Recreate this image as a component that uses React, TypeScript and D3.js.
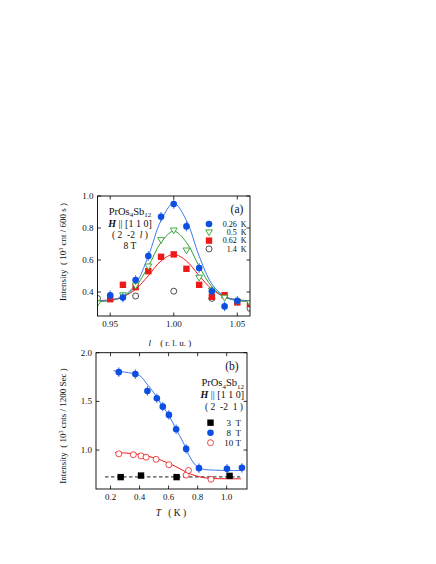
import * as d3 from 'd3'

// ---- panel (a): scan along l, 8 T ----
const L = [0.94, 0.95, 0.96, 0.97, 0.98, 0.99, 1.0, 1.01, 1.02, 1.03, 1.04, 1.05, 1.06]
const K026 = [null, 0.38, 0.365, 0.475, 0.625, 0.87, 0.95, 0.81, 0.55, 0.405, 0.31, 0.345, null]
const K05 = [0.33, null, 0.38, 0.44, 0.56, 0.725, 0.785, 0.66, 0.49, 0.41, 0.365, 0.34, 0.33]
const K062 = [null, 0.355, 0.445, 0.43, 0.53, 0.62, 0.635, 0.545, 0.445, 0.37, 0.38, 0.335, 0.325]
const K14 = [0.36, null, null, 0.375, null, null, 0.405, null, null, 0.36, null, null, 0.298]
// fitted curves
const FIT026 = [0.345, 0.35, 0.372, 0.45, 0.624, 0.847, 0.955, 0.847, 0.624, 0.45, 0.372, 0.35, 0.345]
const FIT05 = [0.34, 0.346, 0.368, 0.433, 0.56, 0.71, 0.78, 0.71, 0.56, 0.433, 0.368, 0.346, 0.34]
const FIT062 = [0.346, 0.351, 0.37, 0.417, 0.502, 0.594, 0.635, 0.594, 0.502, 0.417, 0.37, 0.351, 0.346]
const A_XTICKS = [0.95, 1.0, 1.05]
const A_YTICKS = [0.4, 0.6, 0.8, 1.0]

// ---- panel (b): temperature dependence ----
const T3 = [0.27, 0.41, 0.655, 1.02]
const I3 = [0.722, 0.738, 0.722, 0.735]
const T8 = [0.257, 0.371, 0.454, 0.519, 0.56, 0.602, 0.652, 0.721, 0.809, 1.002, 1.105]
const I8 = [1.8, 1.78, 1.607, 1.532, 1.446, 1.361, 1.214, 1.012, 0.814, 0.807, 0.817]
const T10 = [0.257, 0.357, 0.41, 0.445, 0.514, 0.602, 0.721, 0.737, 0.892]
const I10 = [0.961, 0.952, 0.94, 0.927, 0.905, 0.85, 0.743, 0.79, 0.7]
const FIT8_T = [0.22, 0.3, 0.4, 0.45, 0.5, 0.55, 0.6, 0.65, 0.7, 0.75, 0.8, 0.85, 0.9, 1.0, 1.1]
const FIT8_I = [1.815, 1.8, 1.765, 1.68, 1.585, 1.47, 1.36, 1.22, 1.08, 0.92, 0.825, 0.8, 0.795, 0.79, 0.79]
const FIT10_T = [0.23, 0.3, 0.4, 0.5, 0.55, 0.6, 0.65, 0.7, 0.75, 0.8, 0.85, 0.9, 1.0, 1.1]
const FIT10_I = [0.975, 0.97, 0.955, 0.92, 0.895, 0.865, 0.83, 0.79, 0.755, 0.73, 0.715, 0.708, 0.705, 0.705]
const BASE3_T = [0.162, 1.093]
const BASE3_I = [0.724, 0.724]
const B_XTICKS = [0.2, 0.4, 0.6, 0.8, 1.0]
const B_YTICKS = [1.0, 1.5, 2.0]

const BLUE = '#0d4fe0'
const BLUE_LINE = '#3b78ee'
const GREEN = '#2ea02e'
const RED = '#ee1a1a'
const NB = '\u00a0'

const xa = d3.scaleLinear().domain([0.94, 1.06]).range([97.5, 250])
const ya = d3.scaleLinear().domain([0.25, 1.0]).range([316, 196])
const xb = d3.scaleLinear().domain([0.1, 1.14]).range([96, 247])
const yb = d3.scaleLinear().domain([0.6, 2.0]).range([489, 352.7])

function pts(xs: number[], ys: (number | null)[]) {
  return xs.map((x, i) => [x, ys[i]] as [number, number | null]).filter(d => d[1] != null) as [number, number][]
}

function Frame({ x, y, xt, yt, xfmt, yfmt }: any) {
  const [x0, x1] = x.range()
  const [y0, y1] = y.range()
  const tl = 3.5
  return (
    <g>
      <rect x={x0} y={y1} width={x1 - x0} height={y0 - y1} fill="none" stroke="#000" strokeWidth={0.9} />
      {xt.map((t: number) => (
        <g key={'x' + t}>
          <line x1={x(t)} x2={x(t)} y1={y0} y2={y0 - tl} stroke="#000" strokeWidth={0.8} />
          <line x1={x(t)} x2={x(t)} y1={y1} y2={y1 + tl} stroke="#000" strokeWidth={0.8} />
          <text x={x(t)} y={y0 + 10.5} textAnchor="middle" fontSize={9}>{xfmt(t)}</text>
        </g>
      ))}
      {yt.map((t: number) => (
        <g key={'y' + t}>
          <line x1={x0} x2={x0 + tl} y1={y(t)} y2={y(t)} stroke="#000" strokeWidth={0.8} />
          <line x1={x1} x2={x1 - tl} y1={y(t)} y2={y(t)} stroke="#000" strokeWidth={0.8} />
          <text x={x0 - 4} y={y(t) + 3} textAnchor="end" fontSize={9}>{yfmt(t)}</text>
        </g>
      ))}
    </g>
  )
}

function Marker({ kind, cx, cy, color }: any) {
  if (kind === 'circle') return <circle cx={cx} cy={cy} r={3.3} fill={color} />
  if (kind === 'open') return <circle cx={cx} cy={cy} r={3} fill="#fff" stroke={color} strokeWidth={0.8} />
  if (kind === 'square') return <rect x={cx - 3.2} y={cy - 3.2} width={6.4} height={6.4} fill={color} />
  if (kind === 'tri')
    return <path d={`M${cx - 3.4},${cy - 2.4}L${cx + 3.4},${cy - 2.4}L${cx},${cy + 3.4}Z`} fill="#fff" stroke={color} strokeWidth={0.9} />
  return null
}

function Series({ data, x, y, kind, color, err }: any) {
  return (
    <g>
      {data.map(([a, b]: [number, number], i: number) => (
        <g key={i}>
          {err ? <line x1={x(a)} x2={x(a)} y1={y(b) - 4.8} y2={y(b) + 4.8} stroke={color} strokeWidth={0.8} /> : null}
          <Marker kind={kind} cx={x(a)} cy={y(b)} color={color} />
        </g>
      ))}
    </g>
  )
}

export default function App() {
  const lineA = d3.line<[number, number]>().x(d => xa(d[0])).y(d => ya(d[1])).curve(d3.curveCatmullRom.alpha(0.5))
  const lineB = d3.line<[number, number]>().x(d => xb(d[0])).y(d => yb(d[1])).curve(d3.curveCatmullRom.alpha(0.5))
  const f2 = d3.format('.2f')
  const f1 = d3.format('.1f')

  return (
    <svg width={436} height={564} style={{ position: 'absolute', left: 0, top: 0, background: '#fff' }}>
      <style>{`text { font-family: 'Liberation Serif', 'DejaVu Serif', serif; fill: #111; }`}</style>
      {/* ---------- panel (a) ---------- */}
      <defs>
        <clipPath id="clipA"><rect x={97.5} y={196} width={152.5} height={120} /></clipPath>
      </defs>
      <g clipPath="url(#clipA)">
        <path d={lineA(pts(L, FIT062))!} fill="none" stroke={RED} strokeWidth={1} />
        <path d={lineA(pts(L, FIT05))!} fill="none" stroke={GREEN} strokeWidth={1} />
        <path d={lineA(pts(L, FIT026))!} fill="none" stroke={BLUE_LINE} strokeWidth={1} />
        <Series data={pts(L, K14)} x={xa} y={ya} kind="open" color="#222" />
        <Series data={pts(L, K062)} x={xa} y={ya} kind="square" color={RED} />
        <Series data={pts(L, K05)} x={xa} y={ya} kind="tri" color={GREEN} />
        <Series data={pts(L, K026)} x={xa} y={ya} kind="circle" color={BLUE} err />
      </g>
      <Frame x={xa} y={ya} xt={A_XTICKS} yt={A_YTICKS} xfmt={f2} yfmt={f1} />

      <text x={130} y={214.5} textAnchor="middle" fontSize={10.5}>
        PrOs<tspan fontSize={7} dy={2.5}>4</tspan><tspan dy={-2.5}>Sb</tspan><tspan fontSize={7} dy={2.5}>12</tspan>
      </text>
      <text x={130} y={227} textAnchor="middle" fontSize={10}>
        <tspan fontWeight="bold" fontStyle="italic">H</tspan> || [1 1 0]
      </text>
      <text x={130} y={238} textAnchor="middle" fontSize={9.5}>
        {`(${NB}2${NB}${NB}-2${NB}${NB}`}<tspan fontStyle="italic">l</tspan>{`${NB})`}
      </text>
      <text x={130} y={248.5} textAnchor="middle" fontSize={9.5}>8 T</text>
      <text x={237} y={213} textAnchor="middle" fontSize={11.5}>(a)</text>

      {[
        { k: 'circle', c: BLUE, t: `0.26${NB}${NB}K` },
        { k: 'tri', c: GREEN, t: `0.5${NB}${NB}K` },
        { k: 'square', c: RED, t: `0.62${NB}${NB}K` },
        { k: 'open', c: '#222', t: `1.4${NB}${NB}K` },
      ].map((d, i) => (
        <g key={d.t}>
          <Marker kind={d.k} cx={209} cy={224 + i * 8.3} color={d.c} />
          <text x={246.5} y={224 + i * 8.3 + 2.8} textAnchor="end" fontSize={8}>{d.t}</text>
        </g>
      ))}

      <text transform={`translate(66,252) rotate(-90)`} textAnchor="middle" fontSize={9}>
        {`Intensity${NB}${NB}(${NB}10`}<tspan fontSize={6} dy={-3.5}>3</tspan><tspan dy={3.5}>{`${NB}cnt${NB}/${NB}600${NB}s${NB})`}</tspan>
      </text>
      <text x={170} y={346} textAnchor="middle" fontSize={9}>
        <tspan fontStyle="italic">l</tspan>{`${NB}${NB}${NB}${NB}(${NB}r.${NB}l.${NB}u.${NB})`}
      </text>

      {/* ---------- panel (b) ---------- */}
      <defs>
        <clipPath id="clipB"><rect x={96} y={352.7} width={151} height={136.3} /></clipPath>
      </defs>
      <g clipPath="url(#clipB)">
        <path d={lineB(pts(BASE3_T, BASE3_I))!} fill="none" stroke="#000" strokeWidth={0.9} strokeDasharray="3.5,2.5" />
        <path d={lineB(pts(FIT10_T, FIT10_I))!} fill="none" stroke={RED} strokeWidth={1} />
        <path d={lineB(pts(FIT8_T, FIT8_I))!} fill="none" stroke={BLUE_LINE} strokeWidth={1} />
        <Series data={pts(T3, I3)} x={xb} y={yb} kind="square" color="#000" />
        <Series data={pts(T10, I10)} x={xb} y={yb} kind="open" color={RED} />
        <Series data={pts(T8, I8)} x={xb} y={yb} kind="circle" color={BLUE} err />
      </g>
      <Frame x={xb} y={yb} xt={B_XTICKS} yt={B_YTICKS} xfmt={f1} yfmt={f1} />

      <text x={232} y={370} textAnchor="middle" fontSize={11.5}>(b)</text>
      <text x={244} y={386} textAnchor="end" fontSize={10.5}>
        PrOs<tspan fontSize={7} dy={2.5}>4</tspan><tspan dy={-2.5}>Sb</tspan><tspan fontSize={7} dy={2.5}>12</tspan>
      </text>
      <text x={244} y={398} textAnchor="end" fontSize={10}>
        <tspan fontWeight="bold" fontStyle="italic">H</tspan> || [1 1 0]
      </text>
      <text x={243} y={409.5} textAnchor="end" fontSize={9.5}>{`(${NB}2${NB}${NB}-2${NB}${NB}1${NB})`}</text>

      {[
        { k: 'square', c: '#000', t: `3${NB}${NB}T` },
        { k: 'circle', c: BLUE, t: `8${NB}${NB}T` },
        { k: 'open', c: RED, t: `10${NB}T` },
      ].map((d, i) => (
        <g key={d.t}>
          <Marker kind={d.k} cx={210.5} cy={422.7 + i * 10} color={d.c} />
          <text x={241} y={422.7 + i * 10 + 3} textAnchor="end" fontSize={9}>{d.t}</text>
        </g>
      ))}

      <text transform={`translate(66,426) rotate(-90)`} textAnchor="middle" fontSize={9}>
        {`Intensity${NB}${NB}(${NB}10`}<tspan fontSize={6} dy={-3.5}>3</tspan><tspan dy={3.5}>{`${NB}cnts${NB}/${NB}1200${NB}Sec${NB})`}</tspan>
      </text>
      <text x={171} y={516} textAnchor="middle" fontSize={9.5}>
        <tspan fontStyle="italic">T</tspan>{`${NB}${NB}${NB}(${NB}K${NB})`}
      </text>
    </svg>
  )
}
